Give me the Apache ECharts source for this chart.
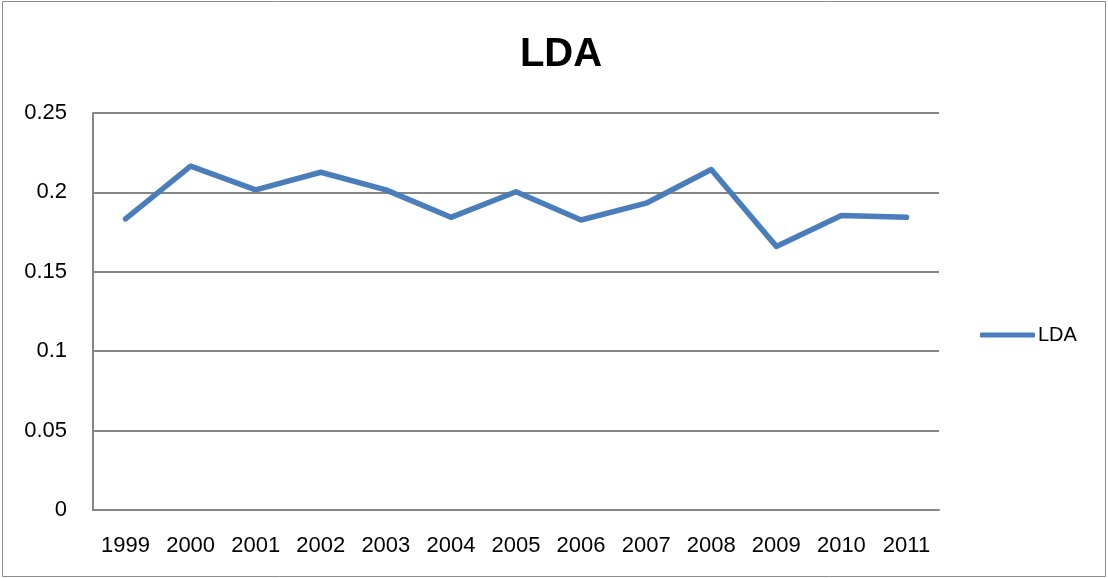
<!DOCTYPE html>
<html>
<head>
<meta charset="utf-8">
<script src="https://cdn.jsdelivr.net/npm/echarts@6/dist/echarts.min.js"></script>
<style>
html,body{margin:0;padding:0;background:#fff;}
#chart{width:1108px;height:578px;}
</style>
</head>
<body>
<div id="chart"></div>
<script>
var categories = ['1999','2000','2001','2002','2003','2004','2005','2006','2007','2008','2009','2010','2011'];
var ldaValues = [0.1833, 0.2165, 0.2016, 0.2127, 0.2016, 0.1843, 0.2004, 0.1826, 0.1932, 0.2144, 0.1660, 0.1855, 0.1843];
var yTicks = [0, 0.05, 0.1, 0.15, 0.2, 0.25];

var chart = echarts.init(document.getElementById('chart'), null, {renderer: 'canvas'});
var fontFam = '"Liberation Sans", Arial, sans-serif';
chart.setOption({
  backgroundColor: '#ffffff',
  animation: false,
  title: {
    text: 'LDA',
    left: 556,
    textAlign: 'center',
    top: 30,
    textStyle: {fontFamily: fontFam, fontWeight: 'bold', fontSize: 40, color: '#000'}
  },
  legend: {
    data: ['LDA'],
    left: 975,
    top: 320,
    icon: 'roundRect',
    itemWidth: 55,
    itemHeight: 5,
    itemGap: 5,
    textStyle: {fontFamily: fontFam, fontSize: 20, color: '#000', padding: [0,0,0,-2]}
  },
  graphic: [{
    type: 'rect',
    shape: {x: 2.5, y: 1.5, width: 1103, height: 575},
    style: {fill: 'none', stroke: '#8c8c8c', lineWidth: 1},
    silent: true
  }],
  grid: {left: 93, right: 169, top: 113, bottom: 68, containLabel: false},
  xAxis: {
    type: 'category',
    data: categories,
    boundaryGap: true,
    axisLine: {show: true, lineStyle: {color: '#868686', width: 2}},
    axisTick: {show: false},
    axisLabel: {fontFamily: fontFam, fontSize: 22, color: '#000', margin: 25, interval: 0}
  },
  yAxis: {
    type: 'value',
    min: 0,
    max: 0.25,
    interval: 0.05,
    axisLine: {show: true, lineStyle: {color: '#868686', width: 2}},
    axisTick: {show: false},
    splitLine: {show: true, lineStyle: {color: '#868686', width: 2}},
    axisLabel: {
      fontFamily: fontFam, fontSize: 22, color: '#000', margin: 26,
      formatter: function (v) { return String(parseFloat(v.toFixed(2))); }
    }
  },
  series: [{
    name: 'LDA',
    type: 'line',
    data: ldaValues,
    symbol: 'none',
    lineStyle: {color: '#4a7ebb', width: 5.5, cap: 'round', join: 'round'},
    itemStyle: {color: '#4a7ebb'}
  }]
});
</script>
</body>
</html>
